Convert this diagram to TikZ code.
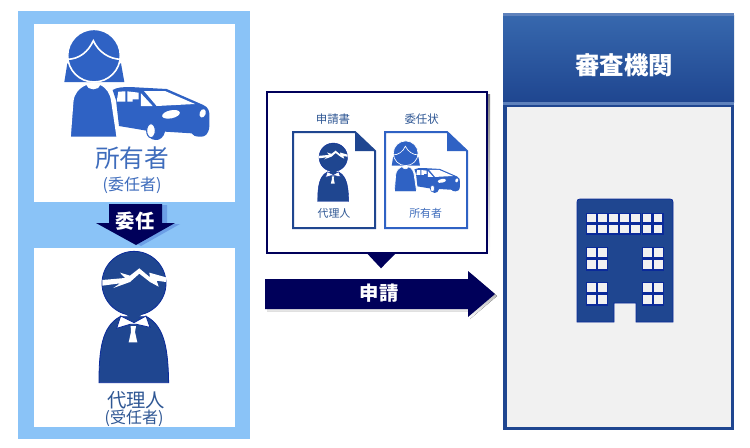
\documentclass[tikz,border=0pt]{standalone}
\usepackage{fontspec}
\setmainfont{Noto Sans CJK JP}
\definecolor{panelblue}{HTML}{8AC3F7}
\definecolor{navy}{HTML}{00005A}
\definecolor{owner}{HTML}{2F62C4}
\definecolor{agent}{HTML}{1F4690}
\definecolor{agentline}{HTML}{0A2A9A}
\definecolor{ownertext}{HTML}{3E6CBC}
\definecolor{agenttext}{HTML}{2F5794}
\definecolor{shade}{HTML}{D3DDF2}
\definecolor{arrowshade}{HTML}{6C9FE6}
\definecolor{bodygrey}{HTML}{F1F1F1}
\definecolor{headtop}{HTML}{3768AE}
\definecolor{headline}{HTML}{5F82BC}
\tikzset{
  x=0.75pt,y=-0.75pt,
  label/.style={inner sep=0pt,outer sep=0pt,align=center},
  docsheet/.style={fill=white,line width=1.5pt,line join=miter},
}
% woman, in 3x local coordinates
\newcommand\womanicon[1]{%
  \fill[owner] (172,160) -- (163,216) -- (343,216) -- (333,160) -- cycle;
  \fill[owner,draw=white,line width=#1] (252,137) circle (79);
  \draw[white,line width=#1] (170,148) .. controls (208,148) and (235,125) .. (250,92) .. controls (265,125) and (297,148) .. (335,148);
  \fill[owner,draw=white,line width=#1] (180,382) -- (188,275) .. controls (190,250) and (205,232) .. (230,222) .. controls (234,240) and (266,240) .. (270,222) .. controls (292,232) and (303,250) .. (306,275) -- (322,382) -- cycle;
}
% car, in the same coordinates
\newcommand\caricon[1]{%
  \fill[owner] (308,240) .. controls (320,232) and (340,231) .. (360,231) -- (470,237) -- (580,285) .. controls (596,292) and (599,305) .. (598,320) -- (598,350) .. controls (596,372) and (585,382) .. (570,380) .. controls (555,380) and (548,376) .. (545,370) -- (465,365) .. controls (462,380) and (450,392) .. (436,390) .. controls (420,390) and (412,375) .. (410,362) -- (327,348) -- (318,270) -- cycle;
  \fill[white] (325,245) -- (346,244) -- (346,275) -- (320,275) -- cycle;
  \fill[white] (352,244) -- (386,248) -- (386,268) -- (368,268) -- (368,275) -- (352,275) -- cycle;
  \fill[white] (393,250) -- (428,288) -- (393,288) -- cycle;
  \fill[white] (402,243) -- (465,243) -- (555,282) -- (440,288) -- cycle;
  \fill[white,rotate around={12:(483,313)}] (483,313) ellipse (27 and 12);
  \fill[white,rotate around={-20:(578,310)}] (578,310) ellipse (9 and 13);
  \fill[white,draw=owner,line width=#1] (423,362) ellipse (13 and 21);
}
% man
\newcommand\manicon[1]{%
  \fill[agent,draw=agentline,line width=#1] (372,190) circle (96);
  \fill[white] (277,180) -- (345,174) -- (330,158) -- (360,167) -- (388,145) -- (420,172) -- (418,158) -- (468,172) -- (468,186) -- (440,182) -- (446,200) -- (420,186) -- (388,161) -- (360,186) -- (310,204) -- (330,190) -- (277,197) -- cycle;
  \fill[agent,draw=agentline,line width=#1] (267,488) .. controls (267,390) and (275,320) .. (330,290) -- (410,290) .. controls (465,320) and (474,390) .. (476,488) -- cycle;
  \fill[white,draw=agentline,line width=#1] (332,288) -- (372,308) -- (408,288) -- (420,322) -- (380,313) -- (360,313) -- (320,325) -- cycle;
  \fill[agent] (345,280) -- (372,306) -- (398,280) -- cycle;
  \fill[white] (362,318) -- (378,318) -- (375,336) -- (382,367) -- (356,367) -- (363,336) -- cycle;
}
\begin{document}
\begin{tikzpicture}
\useasboundingbox (0,0) rectangle (750,447);
\fill[white] (0,0) rectangle (750,447);

% left panel
\fill[panelblue] (18,11) rectangle (250,439);
\fill[white] (34,24) rectangle (235,202);
\fill[white] (34,248) rectangle (235,427);
\fill[arrowshade] (114,205) -- (167,205) -- (167,224) -- (180,224) -- (141,246) -- (101,224) -- (114,224) -- cycle;
\fill[navy] (109,204) -- (162,204) -- (162,223) -- (175,223) -- (136,245) -- (96,223) -- (109,223) -- cycle;
\node[label,text=white,font=\fontsize{14.5pt}{15pt}\bfseries] (delegate) at (135,221) {委任};

\begin{scope}[shift={(10,10)},scale=1/3]
  \caricon{0.8pt}
  \womanicon{1.2pt}
\end{scope}
\node[label,text=ownertext,font=\fontsize{18.5pt}{20pt}\selectfont] (owner) at (132,158) {所有者};
\node[label,text=ownertext,font=\fontsize{12pt}{13pt}\selectfont] (ownersub) at (132,185) {(委任者)};

\begin{scope}[shift={(10,220)},scale=1/3]
  \manicon{0.6pt}
\end{scope}
\node[label,text=agenttext,font=\fontsize{14.5pt}{16pt}\selectfont] (agentname) at (136,400) {代理人};
\node[label,text=agenttext,font=\fontsize{12pt}{13pt}\selectfont] (agentsub) at (134,418) {(受任者)};

% callout
\fill[shade] (269,94) rectangle (490,256);
\draw[navy,fill=white,line width=1.5pt] (267,92) rectangle (487,253);
\fill[navy] (366.7,253) -- (396,253) -- (381,268.3) -- cycle;

\node[label,text=agenttext,font=\fontsize{8.6pt}{10pt}\selectfont] (form) at (333,119) {申請書};
\node[label,text=agenttext,font=\fontsize{8.6pt}{10pt}\selectfont] (letter) at (421.7,119) {委任状};

% documents
\draw[docsheet,draw=agent] (293,132) -- (355,132) -- (375,151) -- (375,228) -- (293,228) -- cycle;
\fill[agent] (355,132) -- (355,151) -- (375,151) -- cycle;
\draw[docsheet,draw=owner] (385,132) -- (447,132) -- (467,151) -- (467,228) -- (385,228) -- cycle;
\fill[owner] (447,132) -- (447,151) -- (467,151) -- cycle;

\begin{scope}[shift={(278.1,129.1)},scale=0.1483]
  \manicon{0.3pt}
\end{scope}
\begin{scope}[shift={(366.2,131.8)},scale=0.1567]
  \caricon{0.4pt}
  \womanicon{0.5pt}
\end{scope}
\node[label,text=agenttext,font=\fontsize{8.2pt}{10pt}\selectfont] (agentdoc) at (334,213) {代理人};
\node[label,text=ownertext,font=\fontsize{8.2pt}{10pt}\selectfont] (ownerdoc) at (425.7,213) {所有者};

% submit arrow
\fill[shade] (267,281) -- (470,281) -- (470,273) -- (497,296) -- (470,319) -- (470,311) -- (267,311) -- cycle;
\fill[navy] (265,279) -- (468,279) -- (468,271) -- (495,294) -- (468,317) -- (468,309) -- (265,309) -- cycle;
\node[label,text=white,font=\fontsize{14.5pt}{16pt}\bfseries] (submit) at (379,293.5) {申請};

% right panel
\fill[agent] (503,13) rectangle (734,430);
\shade[top color=headtop,middle color=headtop!30!agent,bottom color=agent] (503,15) rectangle (734,102);
\fill[headline] (503,13) rectangle (734,15.5);
\fill[headline] (503,102) rectangle (734,105);
\fill[bodygrey] (507,107) rectangle (731,427);
\node[label,text=white,font=\fontsize{18.3pt}{20pt}\bfseries] (office) at (624,65) {審査機関};

% building
\fill[agent,draw=agentline,line width=0.5pt] (577,322) -- (577,202) .. controls (577,200) and (578,199) .. (580,199) -- (670,199) .. controls (672,199) and (673,200) .. (673,202) -- (673,322) -- (636,322) -- (636,303) -- (614,303) -- (614,322) -- cycle;
\foreach \xx in {0,...,6} \foreach \yy in {0,1} {
  \fill[agentline] ({586+11.1*\xx},{212.5+11*\yy}) rectangle ++(11,11);
  \fill[bodygrey] ({587+11.1*\xx},{213.5+11*\yy}) rectangle ++(8.6,8.6);
}
\foreach \xx in {586,597,642,653} \foreach \yy in {247,259,282,294} {
  \fill[agentline] (\xx,\yy) rectangle ++(11,11.5);
  \fill[bodygrey] ({\xx+1},{\yy+1}) rectangle ++(8.6,9);
}
\end{tikzpicture}
\end{document}
